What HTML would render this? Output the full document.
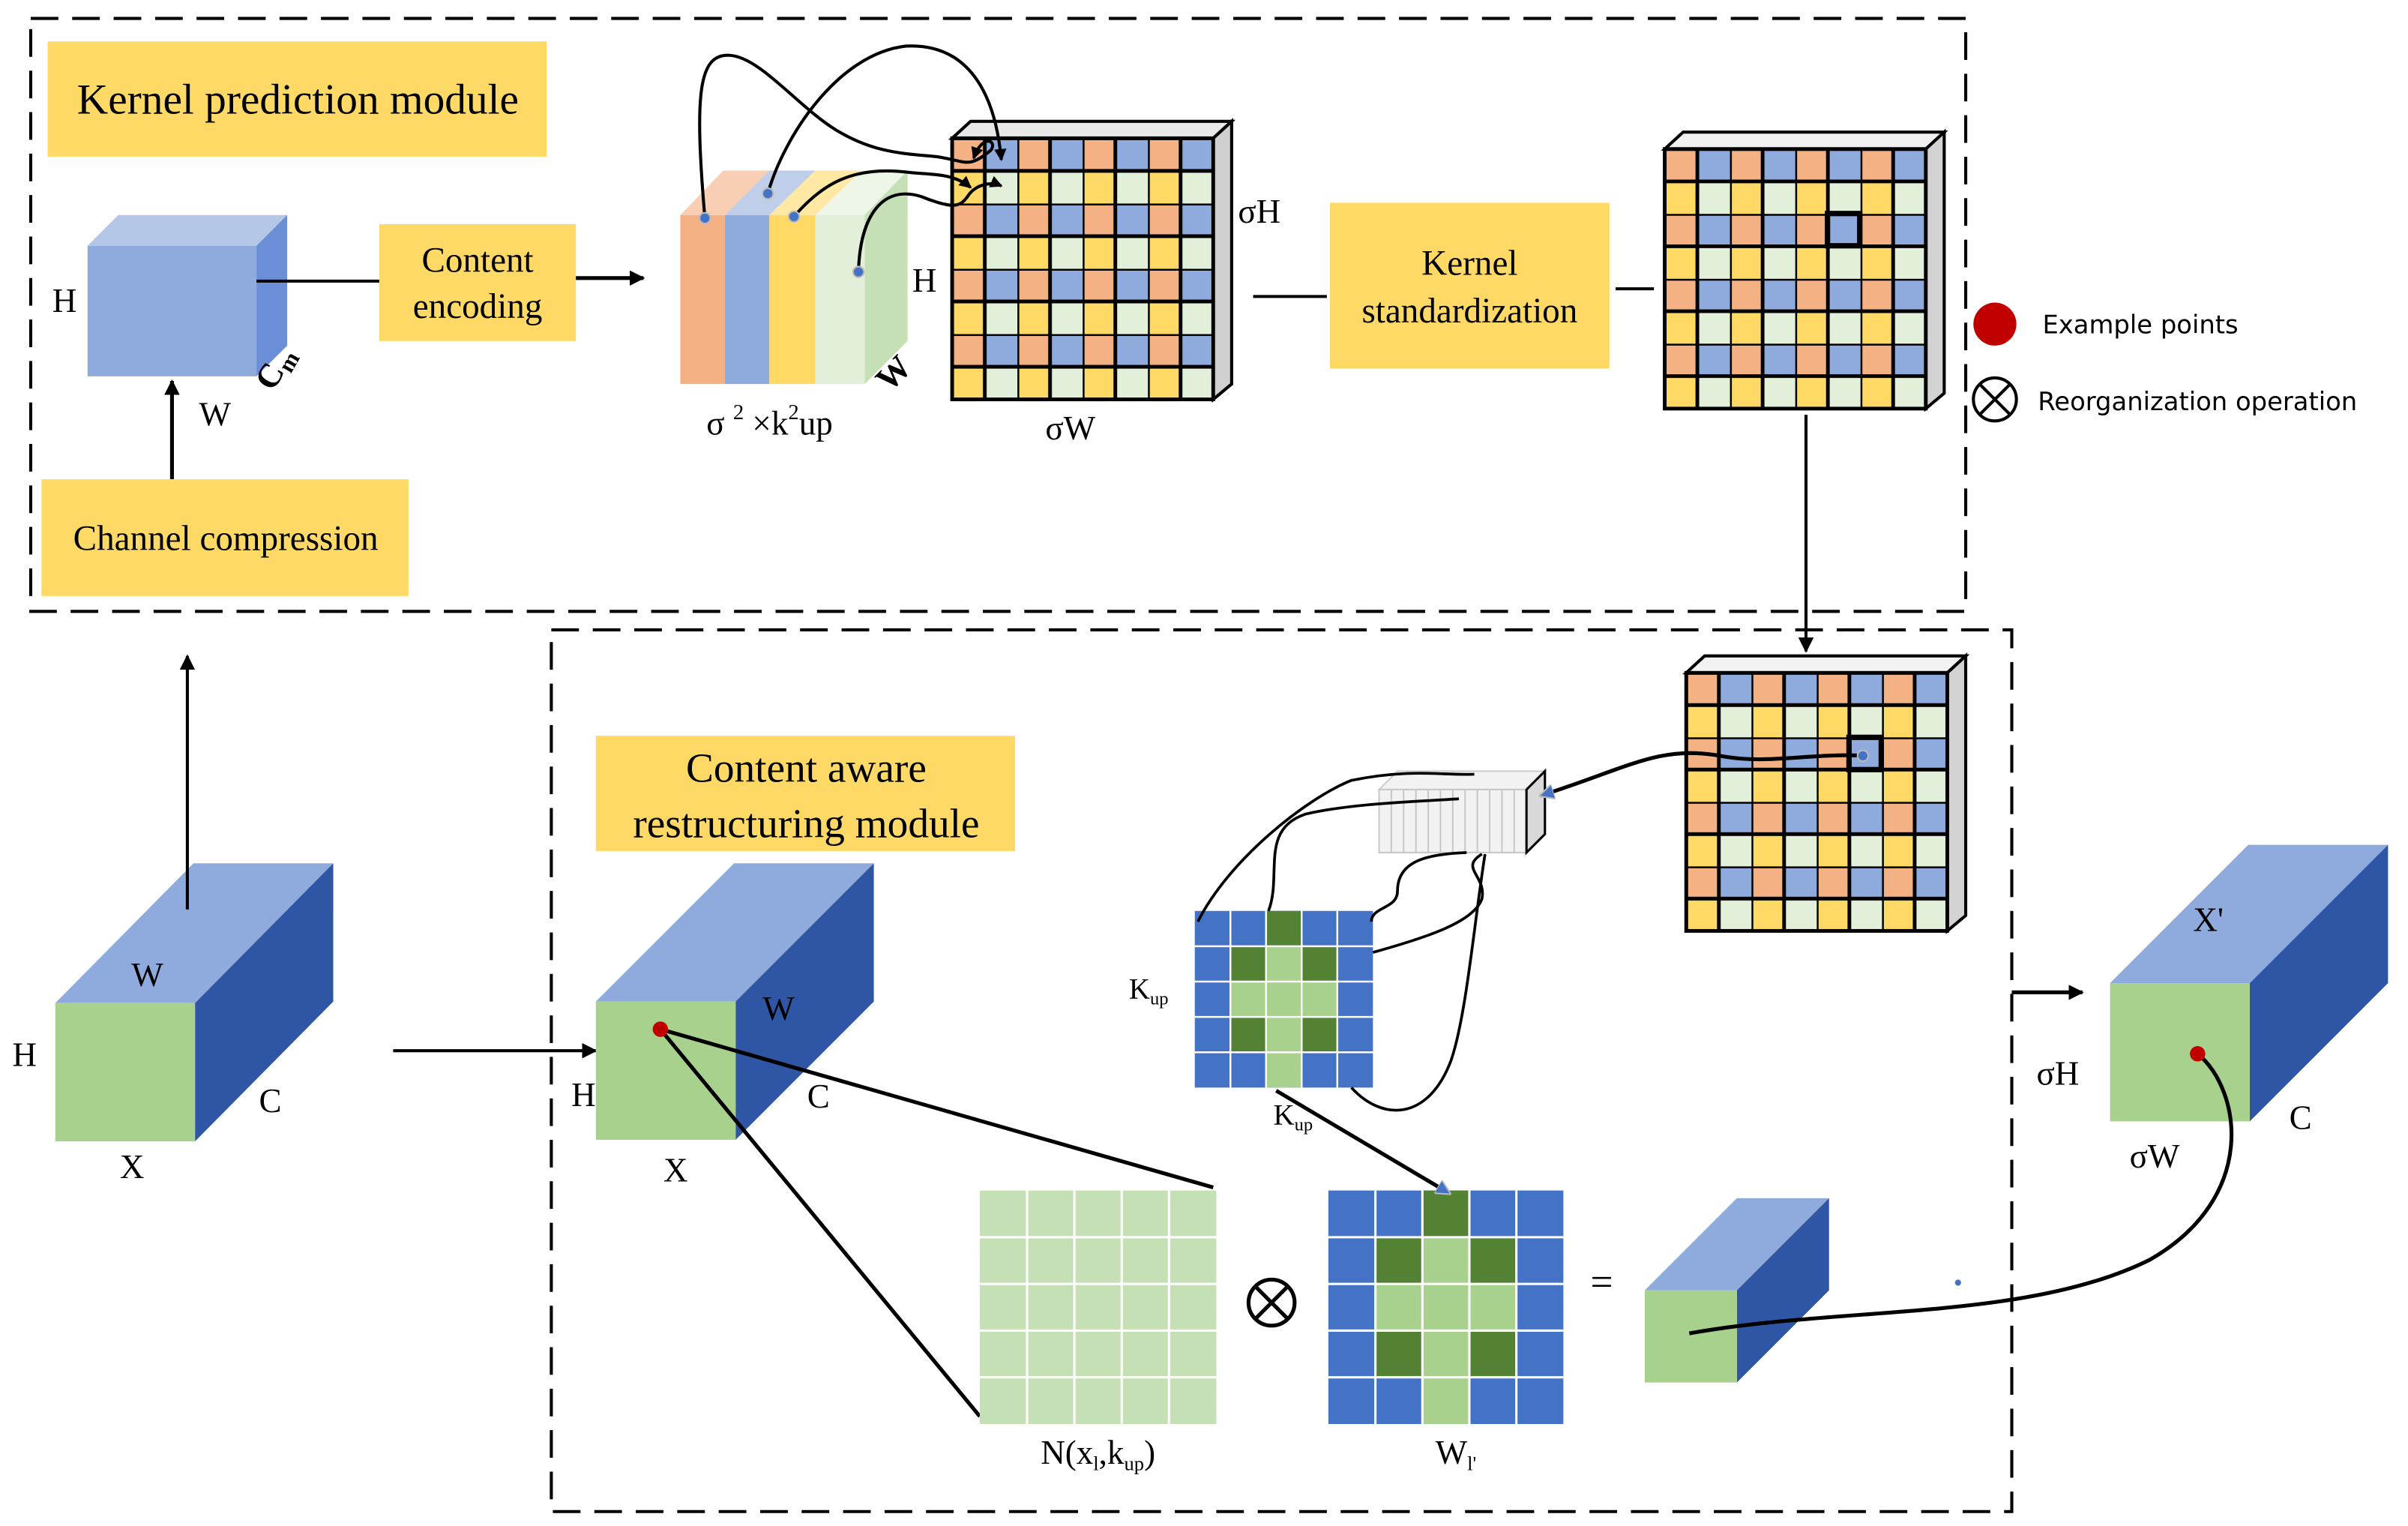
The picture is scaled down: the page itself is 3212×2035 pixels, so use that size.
<!DOCTYPE html>
<html><head><meta charset="utf-8"><style>
html,body{margin:0;padding:0;background:#fff;}
svg{display:block;}
text{font-family:"Liberation Serif",serif;fill:#000;}
.s{font-family:"DejaVu Sans","Liberation Sans",sans-serif;}
</style></head><body>
<svg width="3212" height="2035" viewBox="0 0 1568 993.4" preserveAspectRatio="none" xmlns="http://www.w3.org/2000/svg">
<defs>
<marker id="ar" markerWidth="10" markerHeight="10" refX="9" refY="5" orient="auto" markerUnits="userSpaceOnUse"><path d="M0,0 L10,5 L0,10 z" fill="#000"/></marker>
<marker id="as" markerWidth="8" markerHeight="8" refX="7" refY="4" orient="auto" markerUnits="userSpaceOnUse"><path d="M0,0 L8,4 L0,8 z" fill="#000"/></marker>
<marker id="ab" markerWidth="10" markerHeight="10" refX="9" refY="5" orient="auto" markerUnits="userSpaceOnUse"><path d="M0,0 L10,5 L0,10 z" fill="#4472C4" stroke="#bbb" stroke-width="1"/></marker>
<pattern id="p1" x="620" y="90" width="42.5" height="42.5" patternUnits="userSpaceOnUse">
<rect x="0" y="0" width="21.25" height="21.25" fill="#F4B183"/><rect x="21.25" y="0" width="21.25" height="21.25" fill="#8FAADC"/>
<rect x="0" y="21.25" width="21.25" height="21.25" fill="#FFD966"/><rect x="21.25" y="21.25" width="21.25" height="21.25" fill="#E2F0D9"/>
<path d="M0,0H42.5M0,21.25H42.5M0,0V42.5M21.25,0V42.5" stroke="#000" stroke-width="2.4"/>
</pattern>
<pattern id="p2" x="1084" y="97" width="42.5" height="42.25" patternUnits="userSpaceOnUse">
<rect x="0" y="0" width="21.25" height="21.1" fill="#F4B183"/><rect x="21.25" y="0" width="21.25" height="21.1" fill="#8FAADC"/>
<rect x="0" y="21.1" width="21.25" height="21.15" fill="#FFD966"/><rect x="21.25" y="21.1" width="21.25" height="21.15" fill="#E2F0D9"/>
<path d="M0,0H42.5M0,21.1H42.5M0,0V42.25M21.25,0V42.25" stroke="#000" stroke-width="2.4"/>
</pattern>
<pattern id="p3" x="1098" y="438" width="42.5" height="42" patternUnits="userSpaceOnUse">
<rect x="0" y="0" width="21.25" height="21" fill="#F4B183"/><rect x="21.25" y="0" width="21.25" height="21" fill="#8FAADC"/>
<rect x="0" y="21" width="21.25" height="21" fill="#FFD966"/><rect x="21.25" y="21" width="21.25" height="21" fill="#E2F0D9"/>
<path d="M0,0H42.5M0,21H42.5M0,0V42M21.25,0V42" stroke="#000" stroke-width="2.4"/>
</pattern>
<g id="kg">
<rect x="0" y="0" width="5" height="5" fill="#4472C4"/>
<rect x="2" y="0" width="1" height="1" fill="#548235"/>
<rect x="1" y="1" width="1" height="1" fill="#548235"/><rect x="2" y="1" width="1" height="1" fill="#A9D18E"/><rect x="3" y="1" width="1" height="1" fill="#548235"/>
<rect x="1" y="2" width="3" height="1" fill="#A9D18E"/>
<rect x="1" y="3" width="1" height="1" fill="#548235"/><rect x="2" y="3" width="1" height="1" fill="#A9D18E"/><rect x="3" y="3" width="1" height="1" fill="#548235"/>
<rect x="2" y="4" width="1" height="1" fill="#A9D18E"/>
</g>
</defs>

<!-- dashed boxes -->
<rect x="20" y="12" width="1260" height="386" fill="none" stroke="#000" stroke-width="2" stroke-dasharray="18,9"/>
<rect x="359" y="410" width="951" height="574" fill="none" stroke="#000" stroke-width="2" stroke-dasharray="18,9"/>

<!-- Kernel prediction module -->
<rect x="31" y="27" width="325" height="75" fill="#FFD966"/>
<text x="194" y="74" font-size="28" text-anchor="middle">Kernel prediction module</text>

<!-- blue cube -->
<polygon points="57,160 77,140 187,140 167,160" fill="#B4C7E7"/>
<polygon points="167,160 187,140 187,225 167,245" fill="#6A8FD6"/>
<rect x="57" y="160" width="110" height="85" fill="#8FAADC"/>
<text x="42" y="203" font-size="22" text-anchor="middle">H</text>
<text x="140" y="277" font-size="22" text-anchor="middle">W</text>
<text x="185" y="243" font-size="22" text-anchor="middle" transform="rotate(-60 185 243)" font-weight="bold">C<tspan font-size="15" dy="4">m</tspan></text>
<line x1="112" y1="312" x2="112" y2="248" stroke="#000" stroke-width="2.5" marker-end="url(#ar)"/>
<rect x="27" y="312" width="239" height="76" fill="#FFD966"/>
<text x="147" y="358" font-size="23" text-anchor="middle">Channel compression</text>

<line x1="167" y1="183" x2="247" y2="183" stroke="#000" stroke-width="2"/>
<rect x="247" y="146" width="128" height="76" fill="#FFD966"/>
<text x="311" y="177" font-size="23" text-anchor="middle">Content</text>
<text x="311" y="207" font-size="23" text-anchor="middle">encoding</text>
<line x1="375" y1="181" x2="419" y2="181" stroke="#000" stroke-width="2.5" marker-end="url(#ar)"/>

<!-- striped cube -->
<polygon points="443,140 471,111 501,111 472,140" fill="#F8CFB4"/>
<polygon points="472,140 501,111 531,111 501,140" fill="#BFCFEA"/>
<polygon points="501,140 531,111 561,111 531,140" fill="#FFE8A3"/>
<polygon points="531,140 561,111 591,111 563,140" fill="#EEF6E8"/>
<polygon points="563,140 591,111 591,222 563,250" fill="#C5E0B4"/>
<rect x="443" y="140" width="29" height="110" fill="#F4B183"/>
<rect x="472" y="140" width="29" height="110" fill="#8FAADC"/>
<rect x="501" y="140" width="30" height="110" fill="#FFD966"/>
<rect x="531" y="140" width="32" height="110" fill="#E2F0D9"/>
<text x="602" y="190" font-size="22" text-anchor="middle">H</text>
<text x="587" y="248" font-size="22" text-anchor="middle" font-weight="bold" transform="rotate(-45 587 248)">W</text>
<text x="460" y="283" font-size="22">σ <tspan font-size="14" dy="-10">2</tspan><tspan dy="10"> ×k</tspan><tspan font-size="14" dy="-10">2</tspan><tspan dy="10">up</tspan></text>

<!-- grid 1 -->
<polygon points="620,90 632,79 802,79 790,90" fill="#E8E8E8" stroke="#000" stroke-width="2"/>
<polygon points="790,90 802,79 802,250 790,260" fill="#D0D0D0" stroke="#000" stroke-width="2"/>
<rect x="620" y="90" width="170" height="170" fill="url(#p1)" stroke="#000" stroke-width="2.4"/>
<text x="820" y="145" font-size="22" text-anchor="middle">σH</text>
<text x="697" y="286" font-size="22" text-anchor="middle">σW</text>
<!-- curves stripes -> grid1 -->
<g fill="none" stroke="#000" stroke-width="2">
<path d="M459,142 C452,60 455,35 475,36 C495,37 520,70 545,85 C570,100 590,100 610,102 C630,105 630,110 645,98 C650,92 640,86 634,103" marker-end="url(#as)"/>
<path d="M500,126 C510,90 545,35 590,30 C630,28 648,60 652,104" marker-end="url(#as)"/>
<path d="M517,141 C535,120 555,108 590,112 C605,114 620,112 632,122" marker-end="url(#as)"/>
<path d="M559,177 C560,140 575,120 600,128 C620,136 625,135 630,128 C635,120 645,118 652,121" marker-end="url(#as)"/>
</g>
<g fill="#4472C4" stroke="#bbb" stroke-width="1"><circle cx="459" cy="142" r="3.5"/><circle cx="500" cy="126" r="3.5"/><circle cx="517" cy="141" r="3.5"/><circle cx="559" cy="177" r="3.5"/></g>

<line x1="816" y1="193" x2="864" y2="193" stroke="#000" stroke-width="2"/>
<rect x="866" y="132" width="182" height="108" fill="#FFD966"/>
<text x="957" y="179" font-size="23" text-anchor="middle">Kernel</text>
<text x="957" y="210" font-size="23" text-anchor="middle">standardization</text>
<line x1="1052" y1="188" x2="1077" y2="188" stroke="#000" stroke-width="2"/>

<!-- grid 2 -->
<polygon points="1084,97 1096,86 1266,86 1254,97" fill="#F0F0F0" stroke="#000" stroke-width="2"/>
<polygon points="1254,97 1266,86 1266,256 1254,266" fill="#D3D3D3" stroke="#000" stroke-width="2"/>
<rect x="1084" y="97" width="170" height="169" fill="url(#p2)" stroke="#000" stroke-width="2.4"/>
<rect x="1190" y="139" width="21" height="21" fill="none" stroke="#000" stroke-width="3.5"/>
<line x1="1176" y1="270" x2="1176" y2="424" stroke="#000" stroke-width="2" marker-end="url(#ar)"/>

<!-- legend -->
<circle cx="1299" cy="211" r="14" fill="#C00000"/>
<text class="s" x="1330" y="217" font-size="16.5">Example points</text>
<circle cx="1299" cy="260" r="14" fill="none" stroke="#000" stroke-width="2"/>
<line x1="1289" y1="250" x2="1309" y2="270" stroke="#000" stroke-width="2"/><line x1="1309" y1="250" x2="1289" y2="270" stroke="#000" stroke-width="2"/>
<text class="s" x="1327" y="267" font-size="16.5">Reorganization operation</text>

<!-- grid 3 -->
<polygon points="1098,438 1110,427 1280,427 1268,438" fill="#F2F2F2" stroke="#000" stroke-width="2"/>
<polygon points="1268,438 1280,427 1280,596 1268,606" fill="#D3D3D3" stroke="#000" stroke-width="2"/>
<rect x="1098" y="438" width="170" height="168" fill="url(#p3)" stroke="#000" stroke-width="2.4"/>
<rect x="1204" y="480" width="21" height="21" fill="none" stroke="#000" stroke-width="3.5"/>

<!-- left cube X -->
<polygon points="36,653 126,562 217,562 127,653" fill="#8FAADC"/>
<polygon points="127,653 217,562 217,652 127,743" fill="#2F55A5"/>
<rect x="36" y="653" width="91" height="90" fill="#A9D18E"/>
<text x="96" y="642" font-size="22" text-anchor="middle">W</text>
<text x="16" y="694" font-size="22" text-anchor="middle">H</text>
<text x="176" y="724" font-size="22" text-anchor="middle">C</text>
<text x="86" y="767" font-size="22" text-anchor="middle">X</text>
<line x1="122" y1="592" x2="122" y2="427" stroke="#000" stroke-width="2" marker-end="url(#ar)"/>
<line x1="256" y1="684" x2="388" y2="684" stroke="#000" stroke-width="2" marker-end="url(#ar)"/>

<!-- Content aware box -->
<rect x="388" y="479" width="273" height="75" fill="#FFD966"/>
<text x="525" y="509" font-size="27" text-anchor="middle">Content aware</text>
<text x="525" y="545" font-size="27" text-anchor="middle">restructuring module</text>

<!-- middle cube X -->
<polygon points="388,652 478,562 569,562 479,652" fill="#8FAADC"/>
<polygon points="479,652 569,562 569,652 479,742" fill="#2F55A5"/>
<rect x="388" y="652" width="91" height="90" fill="#A9D18E"/>
<text x="507" y="664" font-size="22" text-anchor="middle">W</text>
<text x="380" y="720" font-size="22" text-anchor="middle">H</text>
<text x="533" y="721" font-size="22" text-anchor="middle">C</text>
<text x="440" y="769" font-size="22" text-anchor="middle">X</text>
<line x1="430" y1="670" x2="790" y2="773" stroke="#000" stroke-width="2.5"/>
<line x1="430" y1="670" x2="638" y2="922" stroke="#000" stroke-width="2.5"/>
<circle cx="430" cy="670" r="5" fill="#C00000"/>

<!-- N grid -->
<rect x="638" y="775" width="154" height="152" fill="#C5E0B4"/>
<g stroke="#fff" stroke-width="1.5">
<line x1="668.8" y1="775" x2="668.8" y2="927"/><line x1="699.6" y1="775" x2="699.6" y2="927"/><line x1="730.4" y1="775" x2="730.4" y2="927"/><line x1="761.2" y1="775" x2="761.2" y2="927"/>
<line x1="638" y1="805.4" x2="792" y2="805.4"/><line x1="638" y1="835.8" x2="792" y2="835.8"/><line x1="638" y1="866.2" x2="792" y2="866.2"/><line x1="638" y1="896.6" x2="792" y2="896.6"/>
</g>
<text x="715" y="953" font-size="22" text-anchor="middle">N(x<tspan font-size="13" dy="4">l</tspan><tspan dy="-4">,k</tspan><tspan font-size="13" dy="4">up</tspan><tspan dy="-4">)</tspan></text>

<!-- otimes -->
<circle cx="828" cy="848" r="15" fill="none" stroke="#000" stroke-width="2.5"/>
<line x1="817" y1="837" x2="839" y2="859" stroke="#000" stroke-width="2.5"/><line x1="839" y1="837" x2="817" y2="859" stroke="#000" stroke-width="2.5"/>

<!-- W grid -->
<use href="#kg" transform="translate(865,775) scale(30.6,30.4)"/>
<g stroke="#fff" stroke-width="1.5">
<line x1="895.6" y1="775" x2="895.6" y2="927"/><line x1="926.2" y1="775" x2="926.2" y2="927"/><line x1="956.8" y1="775" x2="956.8" y2="927"/><line x1="987.4" y1="775" x2="987.4" y2="927"/>
<line x1="865" y1="805.4" x2="1018" y2="805.4"/><line x1="865" y1="835.8" x2="1018" y2="835.8"/><line x1="865" y1="866.2" x2="1018" y2="866.2"/><line x1="865" y1="896.6" x2="1018" y2="896.6"/>
</g>
<text x="948" y="953" font-size="22" text-anchor="middle">W<tspan font-size="13" dy="4">l'</tspan></text>
<text x="1043" y="843" font-size="26" text-anchor="middle">=</text>

<!-- small cube -->
<polygon points="1071,840 1131,780 1191,780 1131,840" fill="#8FAADC"/>
<polygon points="1131,840 1191,780 1191,840 1131,900" fill="#2F55A5"/>
<rect x="1071" y="840" width="60" height="60" fill="#A9D18E"/>

<!-- Kup grid -->
<use href="#kg" transform="translate(778,593) scale(23.2,23)"/>
<g stroke="#fff" stroke-width="1.2">
<line x1="801.2" y1="593" x2="801.2" y2="708"/><line x1="824.4" y1="593" x2="824.4" y2="708"/><line x1="847.6" y1="593" x2="847.6" y2="708"/><line x1="870.8" y1="593" x2="870.8" y2="708"/>
<line x1="778" y1="616" x2="894" y2="616"/><line x1="778" y1="639" x2="894" y2="639"/><line x1="778" y1="662" x2="894" y2="662"/><line x1="778" y1="685" x2="894" y2="685"/>
</g>
<text x="748" y="650" font-size="19" text-anchor="middle">K<tspan font-size="12" dy="4">up</tspan></text>
<text x="842" y="732" font-size="19" text-anchor="middle">K<tspan font-size="12" dy="4">up</tspan></text>
<line x1="831" y1="710" x2="944" y2="777" stroke="#000" stroke-width="2.5" marker-end="url(#ab)"/>

<!-- gray bar -->
<polygon points="898,514 910,502 1006,502 994,514" fill="#F2F2F2" stroke="#ccc" stroke-width="1"/>
<rect x="898" y="514" width="96" height="41" fill="#F2F2F2" stroke="#c8c8c8" stroke-width="1"/>
<g stroke="#c8c8c8" stroke-width="1">
<line x1="906" y1="514" x2="906" y2="555"/><line x1="914" y1="514" x2="914" y2="555"/><line x1="922" y1="514" x2="922" y2="555"/><line x1="930" y1="514" x2="930" y2="555"/><line x1="938" y1="514" x2="938" y2="555"/><line x1="946" y1="514" x2="946" y2="555"/><line x1="954" y1="514" x2="954" y2="555"/><line x1="962" y1="514" x2="962" y2="555"/><line x1="970" y1="514" x2="970" y2="555"/><line x1="978" y1="514" x2="978" y2="555"/><line x1="986" y1="514" x2="986" y2="555"/>
</g>
<polygon points="994,514 1006,502 1006,543 994,555" fill="#D9D9D9" stroke="#000" stroke-width="1.5"/>
<path d="M1213,492 C1180,490 1150,498 1120,492 C1080,485 1060,500 1003,518" fill="none" stroke="#000" stroke-width="2.5" marker-end="url(#ab)"/>
<g fill="none" stroke="#000" stroke-width="1.8">
<path d="M780,600 C800,560 850,520 880,508 C920,500 940,505 960,504"/>
<path d="M826,593 C835,570 820,540 850,530 C880,523 920,522 950,520"/>
<path d="M893,600 C893,590 910,592 910,580 C910,560 930,556 955,555"/>
<path d="M894,620 C930,610 960,600 965,585 C968,570 950,565 965,556"/>
<path d="M880,708 C900,730 930,730 945,690 C955,660 960,600 967,556"/>
</g>
<circle cx="1213" cy="492" r="3.5" fill="#4472C4" stroke="#bbb"/>

<!-- X' cube -->
<line x1="1310" y1="646" x2="1356" y2="646" stroke="#000" stroke-width="2.5" marker-end="url(#ar)"/>
<polygon points="1374,640 1464,550 1555,550 1465,640" fill="#8FAADC"/>
<polygon points="1465,640 1555,550 1555,640 1465,730" fill="#2F55A5"/>
<rect x="1374" y="640" width="91" height="90" fill="#A9D18E"/>
<text x="1438" y="606" font-size="22" text-anchor="middle">X'</text>
<text x="1340" y="706" font-size="22" text-anchor="middle">σH</text>
<text x="1498" y="735" font-size="22" text-anchor="middle">C</text>
<text x="1403" y="760" font-size="22" text-anchor="middle">σW</text>
<path d="M1431,686 C1460,710 1470,780 1400,820 C1320,860 1200,850 1100,868" fill="none" stroke="#000" stroke-width="2.5"/>
<circle cx="1431" cy="686" r="5" fill="#C00000"/>
<circle cx="1275" cy="835" r="2" fill="#4472C4"/>
</svg>
</body></html>
